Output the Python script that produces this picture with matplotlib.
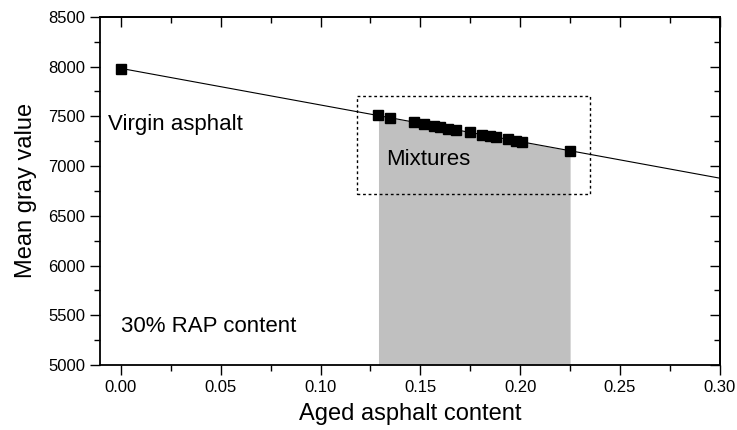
import numpy as np
import matplotlib
matplotlib.use("Agg")
import matplotlib.pyplot as plt
from matplotlib.patches import Rectangle
from matplotlib.ticker import MultipleLocator

plt.rcParams['font.family'] = ['Liberation Sans', 'DejaVu Sans']

# Aged asphalt content and mean gray value: virgin binder plus the 30% RAP mixtures
virgin_x = [0.0]
virgin_y = [7980]
mix_x = [0.129, 0.135, 0.147, 0.152, 0.157, 0.160, 0.164, 0.168,
         0.175, 0.181, 0.185, 0.188, 0.194, 0.198, 0.201, 0.225]
mix_y = [7508, 7480, 7446, 7424, 7406, 7396, 7375, 7362,
         7340, 7315, 7300, 7290, 7270, 7250, 7238, 7155]

# Dotted frame around the mixture group
box_x = [0.118, 0.235]
box_y = [6720, 7700]

all_x = np.array(virgin_x + mix_x)
all_y = np.array(virgin_y + mix_y)
slope, intercept = np.polyfit(all_x, all_y, 1)

fig = plt.figure(figsize=(7.37, 4.30), dpi=100)
ax = fig.add_axes([0.1357, 0.151, 0.841, 0.810])

# shaded band under the fit line across the mixture range
mx = np.array(mix_x)
fx = np.linspace(mx.min(), mx.max(), 50)
ax.fill_between(fx, 5000, intercept + slope * fx, color='#c0c0c0', lw=0, zorder=1)

# linear trend
lx = np.array([0.0, 0.30])
ax.plot(lx, intercept + slope * lx, color='black', lw=0.8, zorder=3)

ax.add_patch(Rectangle((box_x[0], box_y[0]), box_x[1] - box_x[0], box_y[1] - box_y[0],
                       fill=False, ec='black', lw=1.0, ls=(0, (2, 2)), zorder=2))

ax.plot(all_x, all_y, ls='none', marker='s', ms=6.5, color='black', zorder=4)

ax.text(-0.0065, 7420, 'Virgin asphalt', fontsize=16, va='center', ha='left')
ax.text(0.133, 7065, 'Mixtures', fontsize=16, va='center', ha='left', zorder=5)
ax.text(0.0, 5390, '30% RAP content', fontsize=16, va='center', ha='left')

ax.set_xlim(-0.0105, 0.30)
ax.set_ylim(5000, 8500)
ax.xaxis.set_major_locator(MultipleLocator(0.05))
ax.xaxis.set_minor_locator(MultipleLocator(0.025))
ax.yaxis.set_major_locator(MultipleLocator(500))
ax.yaxis.set_minor_locator(MultipleLocator(250))
ax.xaxis.set_major_formatter(matplotlib.ticker.FormatStrFormatter('%.2f'))

ax.tick_params(which='both', direction='out', top=False, right=False, labelsize=12, width=1.0)
ax.tick_params(which='major', length=7)
ax.tick_params(which='minor', length=4)

# inward ticks on the top and right edges
ax2 = ax.secondary_xaxis('top')
ax2.xaxis.set_major_locator(MultipleLocator(0.05))
ax2.xaxis.set_minor_locator(MultipleLocator(0.025))
ax2.tick_params(which='both', direction='in', labeltop=False, width=1.0)
ax2.tick_params(which='major', length=7)
ax2.tick_params(which='minor', length=4)
ax2.spines['top'].set_linewidth(1.3)
ax3 = ax.secondary_yaxis('right')
ax3.yaxis.set_major_locator(MultipleLocator(500))
ax3.yaxis.set_minor_locator(MultipleLocator(250))
ax3.tick_params(which='both', direction='in', labelright=False, width=1.0)
ax3.tick_params(which='major', length=7)
ax3.tick_params(which='minor', length=4)
ax3.spines['right'].set_linewidth(1.3)

for s in ax.spines.values():
    s.set_linewidth(1.3)

ax.set_xlabel('Aged asphalt content', fontsize=17, labelpad=6)
ax.set_ylabel('Mean gray value', fontsize=17, labelpad=8)

fig.savefig('out.png', dpi=100)
